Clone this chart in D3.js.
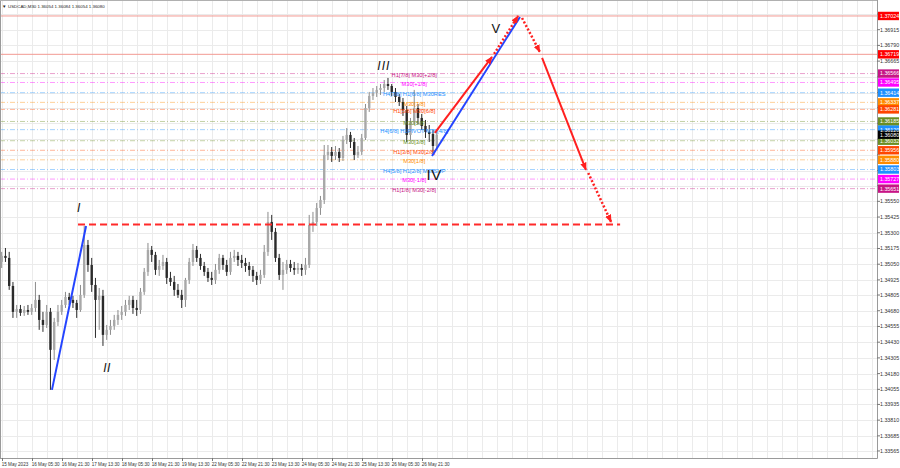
<!DOCTYPE html>
<html><head><meta charset="utf-8">
<script src="https://cdn.jsdelivr.net/npm/d3@7/dist/d3.min.js"></script>
<style>body{margin:0;background:#fff}svg{display:block}</style>
</head><body>
<svg id="c" width="900" height="468"></svg>
<script>
// ---------------- DATA ----------------
const chartTitle = "USDCAD,M30  1.36054 1.36084 1.36054 1.36080";
const timeLabels = ["15 May 2023","16 May 05:30","16 May 21:30","17 May 13:30","18 May 05:30","18 May 21:30","19 May 13:30","22 May 05:30","22 May 21:30","23 May 13:30","24 May 05:30","24 May 21:30","25 May 13:30","26 May 05:30","26 May 21:30"];
const priceTickLabels = ["1.37040","1.36915","1.36790","1.36665","1.36540","1.36415","1.36295","1.36170","1.36045","1.35920","1.35795","1.35675","1.35550","1.35425","1.35300","1.35175","1.35050","1.34925","1.34805","1.34680","1.34555","1.34430","1.34305","1.34180","1.34055","1.33935","1.33810","1.33685","1.33565"];
// candles (2-hour groups), prices in points (1e-5)
const openPts  = [135068,135116,135100,134877,134671,134694,134663,134686,134671,134702,134766,134607,134567,134671,134369,134591,134671,134726,134790,134766,134742,134686,134806,135203,135044,134885,134766,134798,134488,134528,134559,134607,134647,134671,134726,134766,134702,134686,134830,134989,135164,135124,135005,135036,135068,134941,134909,134846,134806,134766,134925,135068,135164,135100,135036,134989,134941,134925,135005,135100,135044,134989,135100,135116,135084,135060,135036,135005,134957,134925,134965,135148,135386,135307,135100,134965,135005,135052,135020,135005,135020,135005,135044,135362,135386,135497,135561,135919,135943,135911,135943,135895,136038,136078,136022,135919,135943,136054,136292,136388,136412,136436,136451,136483,136467,136420,136380,136340,136276,136078,136181,136292,136213,136149,136102,136086,135990];
const highPts  = [135148,135179,135148,134909,134726,134726,134718,134726,134734,134909,134806,134671,134726,134702,134623,134726,134766,134830,134822,134798,134766,134885,135354,135243,135100,134941,134861,134846,134567,134607,134647,134686,134718,134766,134798,134798,134766,134861,135020,135219,135195,135148,135084,135124,135100,134989,134957,134893,134846,134941,135100,135211,135195,135132,135068,135020,134989,135052,135132,135124,135084,135148,135164,135148,135124,135100,135068,135036,134989,135005,135203,135466,135442,135338,135132,135068,135084,135084,135068,135060,135052,135100,135442,135466,135537,135593,135998,135998,135982,135990,135974,136070,136133,136102,136054,135990,136086,136324,136420,136451,136467,136483,136515,136531,136483,136451,136404,136372,136308,136213,136436,136324,136245,136197,136157,136117,136102];
const lowPts   = [135020,135068,134846,134623,134623,134639,134639,134647,134647,134671,134528,134512,134543,134051,134289,134559,134647,134702,134726,134702,134623,134671,134782,134989,134830,134464,134528,134400,134448,134488,134528,134567,134607,134639,134686,134655,134639,134655,134806,134957,135068,134965,134957,135005,134893,134877,134798,134782,134702,134710,134893,135036,135068,135005,134957,134909,134885,134893,134973,135005,134957,134965,135068,135036,135020,134989,134957,134909,134885,134893,134941,135116,135243,135068,134925,134846,134973,134989,134965,134973,134957,134965,135020,135307,135354,135442,135529,135879,135863,135879,135863,135871,136006,135974,135879,135895,135919,136038,136261,136356,136380,136396,136420,136436,136388,136340,136308,136229,136022,136038,136157,136165,136117,136054,136022,135935,135958];
const closePts = [135116,135100,134877,134671,134694,134663,134686,134671,134702,134766,134607,134567,134671,134369,134591,134671,134726,134790,134766,134742,134686,134806,135203,135044,134885,134766,134798,134488,134528,134559,134607,134647,134671,134726,134766,134702,134686,134830,134989,135164,135124,135005,135036,135068,134941,134909,134846,134806,134766,134925,135068,135164,135100,135036,134989,134941,134925,135005,135100,135044,134989,135100,135116,135084,135060,135036,135005,134957,134925,134965,135148,135386,135307,135100,134965,135005,135052,135020,135005,135020,135005,135044,135362,135386,135497,135561,135919,135943,135911,135943,135895,136038,136078,136022,135919,135943,136054,136292,136388,136412,136436,136451,136483,136467,136420,136380,136340,136276,136078,136181,136292,136213,136149,136102,136086,135990,136080];
const lastPrice = 1.36080;
// horizontal levels
const redLevels = [1.37024, 1.36719];
const murreyPrices = [1.36566,1.36495,1.36414,1.36337,1.36281,1.36185,1.36120,1.36032,1.35956,1.35880,1.35803,1.35727,1.35651];
const murreyTexts = ["H1[7/8] M30[+2/8]","M30[+1/8]","H4[7/8] H1[6/8] M30RES","M30[7/8]","H1[5/8] M30[6/8]","M30[5/8]","H4[6/8] H1PIVOT M30[4/8]","M30[3/8]","H1[3/8] M30[2/8]","M30[1/8]","H4[5/8] H1[2/8] M30SUP","M30[-1/8]","H1[1/8] M30[-2/8]"];
const murreyKinds = ["p2","p1","res","s7","s6","s5","piv","s3","s2","s1","sup","m1","m2"];
const murreyTextAt = 110; // candle index of the labels
// wave markup: [candle index, price]
const waveLabels = ["I","II","III","IV","V"];
const wavePoints = [[20.6,1.35466],[28.1,1.34194],[101.9,1.36595],[115.3,1.35720],[131.8,1.36889]];
const blueWaves = [[[13.4,1.34051],[22.5,1.35354]],[[114.75,1.35911],[138.2,1.37016]]];
const targetLevel = {from:20.35, to:164.9, price:1.35365};
const solidArrows  = [[[115.5,1.36094],[130.75,1.36698]],[[144.1,1.36690],[155.8,1.35800]]];
const dottedArrows = [[[131.3,1.36722],[137.7,1.37024]],[[138.75,1.37008],[143.5,1.36738]],[[156.4,1.35776],[162.5,1.35386]]];

// ---------------- STYLE ----------------
const kindColor = {p2:"#c71585",p1:"#ff00ff",res:"#1e90ff",s7:"#ff8c00",s6:"#ff4500",s5:"#6b8e23",piv:"#1e90ff",s3:"#6b8e23",s2:"#ff4500",s1:"#ff8c00",sup:"#1e90ff",m1:"#ff00ff",m2:"#c71585"};
const plotR = 877, plotB = 458;
const FONT = "'Liberation Sans', Arial, sans-serif";

// ---------------- SCALES ----------------
const x = d3.scaleLinear().domain([0, 233.4]).range([1.7, plotR]);
const y = d3.scaleLinear().domain([1.37151, 1.33509]).range([0, plotB]);
const P = v => v / 1e5;

const svg = d3.select("#c");
svg.append("rect").attr("width",900).attr("height",468).attr("fill","#fff");
const defs = svg.append("defs");
defs.append("clipPath").attr("id","clip").append("rect").attr("x",0).attr("y",0).attr("width",plotR).attr("height",plotB);
defs.append("marker").attr("id","ah").attr("viewBox","0 0 10 8").attr("refX",9).attr("refY",4)
  .attr("markerWidth",8).attr("markerHeight",7).attr("markerUnits","userSpaceOnUse").attr("orient","auto")
  .append("path").attr("d","M0,0 L10,4 L0,8 Z").attr("fill","#ff2020");

const plot = svg.append("g").attr("clip-path","url(#clip)");

// grid
const tickVals = priceTickLabels.map(Number);
plot.append("g").selectAll("line").data(tickVals).join("line")
  .attr("x1",0).attr("x2",plotR).attr("y1",d=>Math.round(y(d))+0.5).attr("y2",d=>Math.round(y(d))+0.5)
  .attr("stroke","#ebebeb").attr("stroke-width",1);
const vgrid = d3.range(0, 234, 4);
plot.append("g").selectAll("line").data(vgrid).join("line")
  .attr("y1",0).attr("y2",plotB).attr("x1",d=>Math.round(x(d))+0.5).attr("x2",d=>Math.round(x(d))+0.5)
  .attr("stroke","#ebebeb").attr("stroke-width",1);

// red horizontal lines
plot.append("g").selectAll("line").data(redLevels).join("line")
  .attr("x1",0).attr("x2",plotR).attr("y1",d=>y(d)).attr("y2",d=>y(d))
  .attr("stroke","#f29a92").attr("stroke-width",1);

// murrey lines
plot.append("g").selectAll("line").data(murreyPrices).join("line")
  .attr("x1",0).attr("x2",plotR).attr("y1",d=>y(d)).attr("y2",d=>y(d))
  .attr("stroke",(d,i)=>kindColor[murreyKinds[i]]).attr("stroke-opacity",0.4)
  .attr("stroke-width",1).attr("stroke-dasharray","5,2,1,2");

// candles
const candles = openPts.map((o,i)=>({k:i,o:P(o),h:P(highPts[i]),l:P(lowPts[i]),c:P(closePts[i])}));
const cg = plot.append("g");
cg.selectAll("line").data(candles).join("line")
  .attr("x1",d=>x(d.k)).attr("x2",d=>x(d.k)).attr("y1",d=>y(d.h)).attr("y2",d=>y(d.l))
  .attr("stroke",d=>d.c>=d.o?"#8c8c8c":"#2b2b2b").attr("stroke-width",1);
cg.selectAll("rect").data(candles).join("rect")
  .attr("x",d=>x(d.k)-1.2).attr("width",2.4)
  .attr("y",d=>y(Math.max(d.o,d.c))).attr("height",d=>Math.max(0.8,Math.abs(y(d.o)-y(d.c))))
  .attr("fill",d=>d.c>=d.o?"#a8a8a8":"#2b2b2b");

// murrey texts
plot.append("g").selectAll("text").data(murreyPrices).join("text")
  .attr("x",x(murreyTextAt)).attr("y",d=>y(d)+3.4).attr("text-anchor","middle")
  .attr("font-family",FONT).attr("font-size",5.7).attr("fill",(d,i)=>kindColor[murreyKinds[i]])
  .text((d,i)=>murreyTexts[i]);

// target dashed line
plot.append("line").attr("x1",x(targetLevel.from)).attr("x2",x(targetLevel.to))
  .attr("y1",y(targetLevel.price)).attr("y2",y(targetLevel.price))
  .attr("stroke","#ff2a2a").attr("stroke-width",2).attr("stroke-dasharray","7,4");

// blue wave lines
plot.append("g").selectAll("line").data(blueWaves).join("line")
  .attr("x1",d=>x(d[0][0])).attr("y1",d=>y(d[0][1])).attr("x2",d=>x(d[1][0])).attr("y2",d=>y(d[1][1]))
  .attr("stroke","#2444ff").attr("stroke-width",2);

// arrows
plot.append("g").selectAll("line").data(solidArrows).join("line")
  .attr("x1",d=>x(d[0][0])).attr("y1",d=>y(d[0][1])).attr("x2",d=>x(d[1][0])).attr("y2",d=>y(d[1][1]))
  .attr("stroke","#ff2020").attr("stroke-width",2).attr("marker-end","url(#ah)");
plot.append("g").selectAll("line").data(dottedArrows).join("line")
  .attr("x1",d=>x(d[0][0])).attr("y1",d=>y(d[0][1])).attr("x2",d=>x(d[1][0])).attr("y2",d=>y(d[1][1]))
  .attr("stroke","#ff2020").attr("stroke-width",2.5).attr("stroke-dasharray","2,2").attr("marker-end","url(#ah)");

// wave labels
plot.append("g").selectAll("text").data(waveLabels).join("text")
  .attr("x",(d,i)=>x(wavePoints[i][0])).attr("y",(d,i)=>y(wavePoints[i][1]))
  .attr("text-anchor","middle").attr("font-family",FONT)
  .attr("font-style",d=>(d==="IV"||d==="V")?"normal":"italic")
  .attr("font-size",d=>d==="IV"?15:(d==="V"?13:12)).attr("letter-spacing",d=>d==="III"?1:0.5)
  .attr("fill","#111").text(d=>d);

// title
svg.append("text").attr("x",2).attr("y",7.5).attr("font-family",FONT).attr("font-size",4.5).attr("fill","#222").text("▼");
svg.append("text").attr("x",8).attr("y",7.5).attr("font-family",FONT).attr("font-size",4.4).attr("fill","#222").text(chartTitle);

// frame
svg.append("line").attr("x1",plotR+0.5).attr("x2",plotR+0.5).attr("y1",0).attr("y2",plotB+0.5).attr("stroke","#9a9a9a");
svg.append("line").attr("x1",0).attr("x2",plotR+0.5).attr("y1",plotB+0.5).attr("y2",plotB+0.5).attr("stroke","#9a9a9a");
svg.append("line").attr("x1",0.5).attr("x2",0.5).attr("y1",0).attr("y2",plotB).attr("stroke","#9a9a9a");
svg.append("line").attr("x1",0).attr("x2",plotR).attr("y1",0.5).attr("y2",0.5).attr("stroke","#b0b0b0");

// colored price boxes (data)
const boxes = redLevels.map(p=>({p,c:"#ff0000"}))
  .concat(murreyPrices.map((p,i)=>({p,c:kindColor[murreyKinds[i]]})))
  .concat([{p:lastPrice,c:"#000000"}]);

// price axis labels (those fully covered by a box are hidden, as in the terminal)
const ax = svg.append("g");
ax.selectAll("line").data(tickVals).join("line")
  .attr("x1",plotR).attr("x2",plotR+3).attr("y1",d=>y(d)).attr("y2",d=>y(d)).attr("stroke","#777");
const visibleTicks = priceTickLabels.filter(t => !boxes.some(b => Math.abs(y(b.p) - y(+t)) < 5));
ax.selectAll("text").data(visibleTicks).join("text")
  .attr("x",880).attr("y",d=>y(+d)+1.9).attr("font-family",FONT).attr("font-size",5.3).attr("fill","#333").text(d=>d);

const bg = svg.append("g");
bg.selectAll("rect").data(boxes).join("rect")
  .attr("x",878).attr("width",21).attr("y",d=>y(d.p)-4.2).attr("height",8.4).attr("fill",d=>d.c);
bg.selectAll("text").data(boxes).join("text")
  .attr("x",880).attr("y",d=>y(d.p)+1.9).attr("font-family",FONT).attr("font-size",5.3).attr("fill","#fff")
  .text(d=>d.p.toFixed(5));

// time axis labels
svg.append("g").selectAll("text").data(timeLabels).join("text")
  .attr("x",(d,i)=>x(i*8)).attr("y",466).attr("font-family",FONT).attr("font-size",4.6).attr("fill","#333").text(d=>d);
svg.append("g").selectAll("line").data(timeLabels).join("line")
  .attr("x1",(d,i)=>Math.round(x(i*8))+0.5).attr("x2",(d,i)=>Math.round(x(i*8))+0.5).attr("y1",plotB).attr("y2",plotB+3).attr("stroke","#777");
</script>
</body></html>
